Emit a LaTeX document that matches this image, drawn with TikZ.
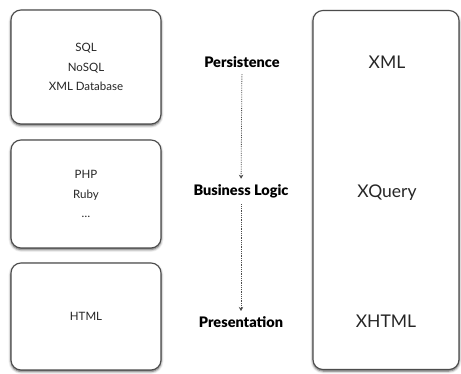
\documentclass[tikz,border=0pt]{standalone}
\usepackage{fontspec}
\setmainfont{Lato}
\IfFontExistsTF{Lato Black}
  {\newfontfamily\layerfont{Lato Black}}
  {\newfontfamily\layerfont{Lato}[UprightFeatures={FakeBold=2}]}
\usetikzlibrary{arrows.meta,shadows.blur}
\begin{document}
\begin{tikzpicture}[x=1pt,y=-1pt,
  tierbox/.style={draw=gray!60!black, line width=1.1pt, fill=white,
    rounded corners=10pt, inner sep=0pt,
    blur shadow={shadow xshift=0pt, shadow yshift=-1.5pt,
      shadow blur radius=2.5pt, shadow opacity=70}},
  boxtext/.style={font=\fontsize{11.5}{19.5}\selectfont, align=center, text=black!85},
  layer/.style={font=\layerfont\fontsize{14.5}{16}\selectfont, text=black},
  tech/.style={font=\fontsize{17.5}{19}\selectfont, text=black!85},
  flow/.style={gray!60!black, densely dotted, line width=0.8pt,
    -{Stealth[length=4pt,width=4.5pt]}, shorten >=2pt, shorten <=3pt}]
  \useasboundingbox (0,0) rectangle (461,374);

  % left column: concrete technologies per tier
  \node[tierbox, boxtext, minimum width=150pt, minimum height=114pt] (db)
    at (86,67) {SQL\\NoSQL\\XML Database};
  \node[tierbox, boxtext, minimum width=150pt, minimum height=108pt] (app)
    at (86,194) {PHP\\Ruby\\\dots};
  \node[tierbox, boxtext, minimum width=150pt, minimum height=107pt] (view)
    at (86,316.5) {HTML};

  % right column: a single XML stack spanning all tiers
  \node[tierbox, minimum width=146pt, minimum height=359pt] (stack) at (386,190) {};
  \node[tech] (xml) at (387,62) {XML};
  \node[tech] (xquery) at (387,193) {XQuery};
  \node[tech] (xhtml) at (386,321) {XHTML};

  % middle: tier names with the data flow between them
  \node[layer] (persist) at (242,62) {Persistence};
  \node[layer] (logic) at (241,191) {Business Logic};
  \node[layer] (present) at (241,322) {Presentation};
  \draw[flow] (persist) -- (logic);
  \draw[flow] (logic) -- (present);
\end{tikzpicture}
\end{document}
